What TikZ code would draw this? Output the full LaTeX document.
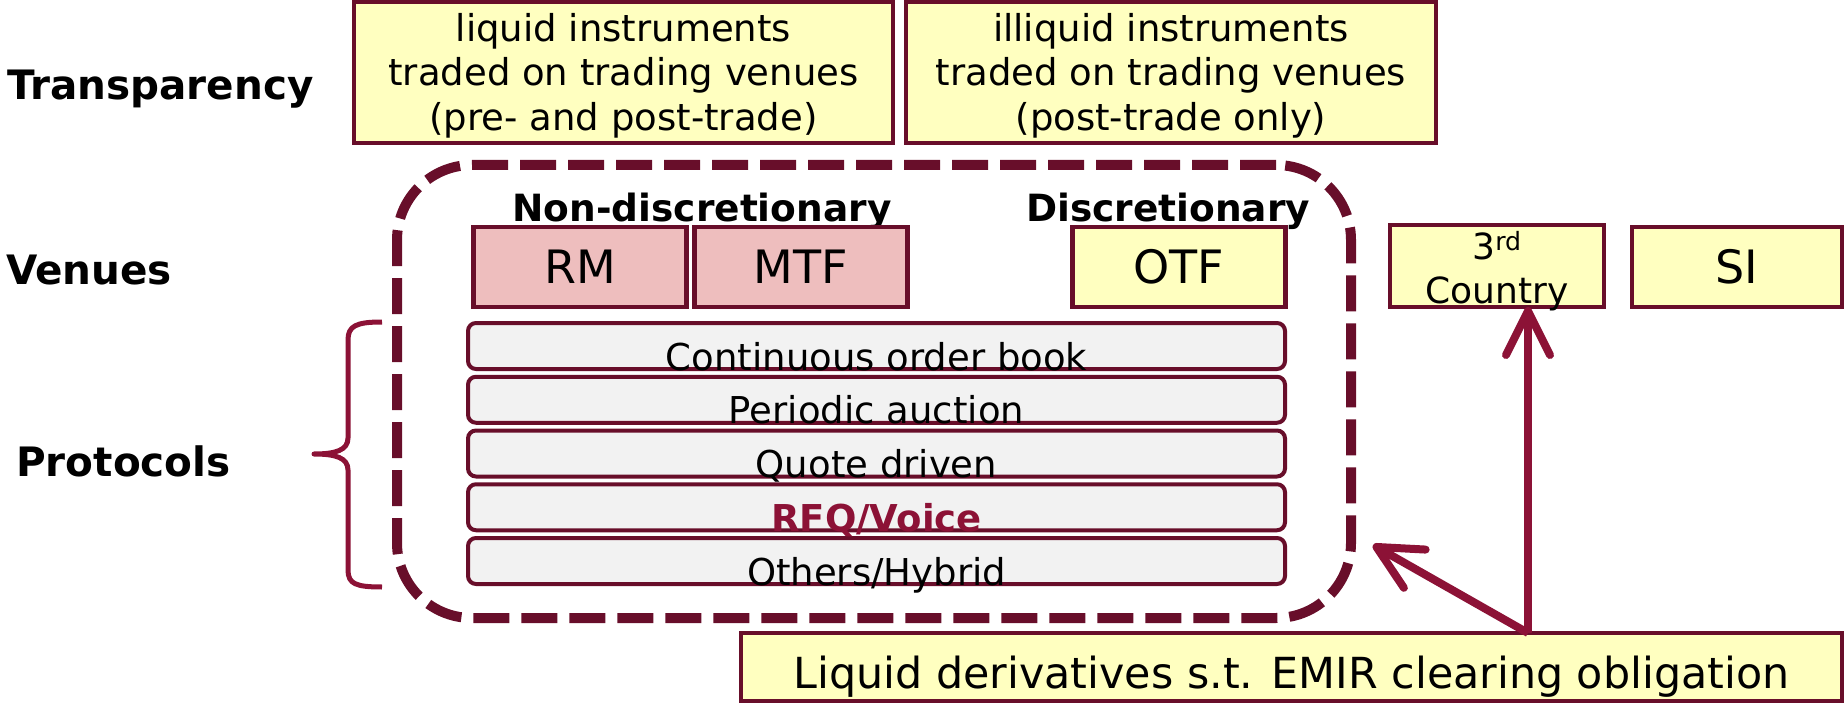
\documentclass[tikz,border=0pt]{standalone}
\usepackage{fontspec}
\setmainfont{DejaVu Sans}
\usetikzlibrary{arrows.meta}
\definecolor{mar}{RGB}{104,14,42}
\definecolor{crim}{RGB}{140,18,54}
\definecolor{yel}{RGB}{255,255,192}
\definecolor{pnk}{RGB}{238,190,190}
\definecolor{gry}{RGB}{242,242,242}
\tikzset{
  ybox/.style={draw=mar, line width=4.5pt, fill=yel, inner sep=0pt, outer sep=0pt, align=center},
  pbox/.style={ybox, fill=pnk},
  vbox/.style={minimum width=213pt, minimum height=80pt, font=\fontsize{46}{52}\selectfont},
  bar/.style={draw=mar, line width=4pt, fill=gry, rounded corners=8pt, minimum width=817pt, minimum height=46pt, inner sep=0pt, outer sep=0pt},
  bartxt/.style={anchor=base, inner sep=0pt, font=\fontsize{37}{44}\selectfont},
  lbl/.style={anchor=base west, inner sep=0pt, font=\fontsize{40.5}{46}\selectfont\bfseries},
  hdr/.style={anchor=base, inner sep=0pt, font=\fontsize{37.5}{44}\selectfont\bfseries},
  toptxt/.style={align=center, inner sep=0pt, font=\fontsize{37}{44.5}\selectfont},
  arr/.style={draw=crim, line width=8pt, -{Straight Barb[length=44pt,width=44pt,round]}},
}
\begin{document}
\begin{tikzpicture}[x=1pt,y=-1pt]
\useasboundingbox (0,0) rectangle (1844,703);
% labels
\node[lbl] (ltr) at (7,100) {Transparency};
\node[lbl] (lve) at (6,285) {Venues};
\node[lbl] (lpr) at (16,476) {Protocols};
% transparency boxes
\node[ybox, minimum width=539pt, minimum height=141pt] (tliq) at (623.5,72.5) {};
\node[toptxt] at (623.5,75.5) {liquid instruments\\traded on trading venues\\(pre- and post-trade)};
\node[ybox, minimum width=530pt, minimum height=141pt] (tilq) at (1171,72.5) {};
\node[toptxt] at (1171,75.5) {illiquid instruments\\traded on trading venues\\(post-trade only)};
% dashed venue frame
\node[draw=mar, line width=10pt, dash pattern=on 36pt off 12pt, rounded corners=75pt,
      minimum width=954pt, minimum height=453pt, inner sep=0pt, outer sep=0pt] (frame) at (874,391.5) {};
% headers
\node[hdr] (hnd) at (702,222) {Non-discretionary};
\node[hdr] (hd) at (1168,222) {Discretionary};
% venues
\node[pbox, vbox] (rm) at (580,267) {RM};
\node[pbox, vbox] (mtf) at (801,267) {MTF};
\node[ybox, vbox] (otf) at (1179,267) {OTF};
\node[ybox, minimum width=214pt, minimum height=82pt] (cty) at (1497,266) {};
\node[inner sep=0pt, anchor=base, font=\fontsize{36}{42}\selectfont] at (1497,260) {3\textsuperscript{rd}};
\node[inner sep=0pt, anchor=base, font=\fontsize{36}{42}\selectfont] at (1497,303) {Country};
\node[ybox, vbox, minimum width=210pt] (si) at (1737,267) {SI};
% protocol bars
\node[bar] (p1) at (876.5,346) {};
\node[bar] (p2) at (876.5,399.75) {};
\node[bar] (p3) at (876.5,453.5) {};
\node[bar] (p4) at (876.5,507.25) {};
\node[bar] (p5) at (876.5,561) {};
\node[bartxt] at ([yshift=-1pt]p1.south) {Continuous order book};
\node[bartxt] at ([yshift=-1pt]p2.south) {Periodic auction};
\node[bartxt] at ([yshift=-1pt]p3.south) {Quote driven};
\node[bartxt, text=crim, font=\fontsize{37}{44}\selectfont\bfseries] at ([yshift=-1pt]p4.south) {RFQ/Voice};
\node[bartxt] at ([yshift=-1pt]p5.south) {Others/Hybrid};
% brace
\draw[crim, line width=5pt, line join=round]
  (382,322) .. controls (356,322) and (348,326) .. (348,340) -- (348,438)
  .. controls (348,450) and (336,454) .. (314,454)
  .. controls (336,454) and (348,458) .. (348,470) -- (348,570)
  .. controls (348,584) and (356,587) .. (382,587);
% clearing obligation box
\node[ybox, minimum width=1101pt, minimum height=68pt] (clr) at (1291.5,667) {};
\node[inner sep=0pt, anchor=base, font=\fontsize{42.8}{48}\selectfont] at (1291.5,688) {Liquid derivatives s.t. EMIR clearing obligation};
% arrows
\coordinate (src) at (1528,633);
\coordinate (dtip) at (1373,545);
\draw[arr] (src) -- (src |- cty.south);
\draw[arr] (src) -- (dtip);
\end{tikzpicture}
\end{document}
